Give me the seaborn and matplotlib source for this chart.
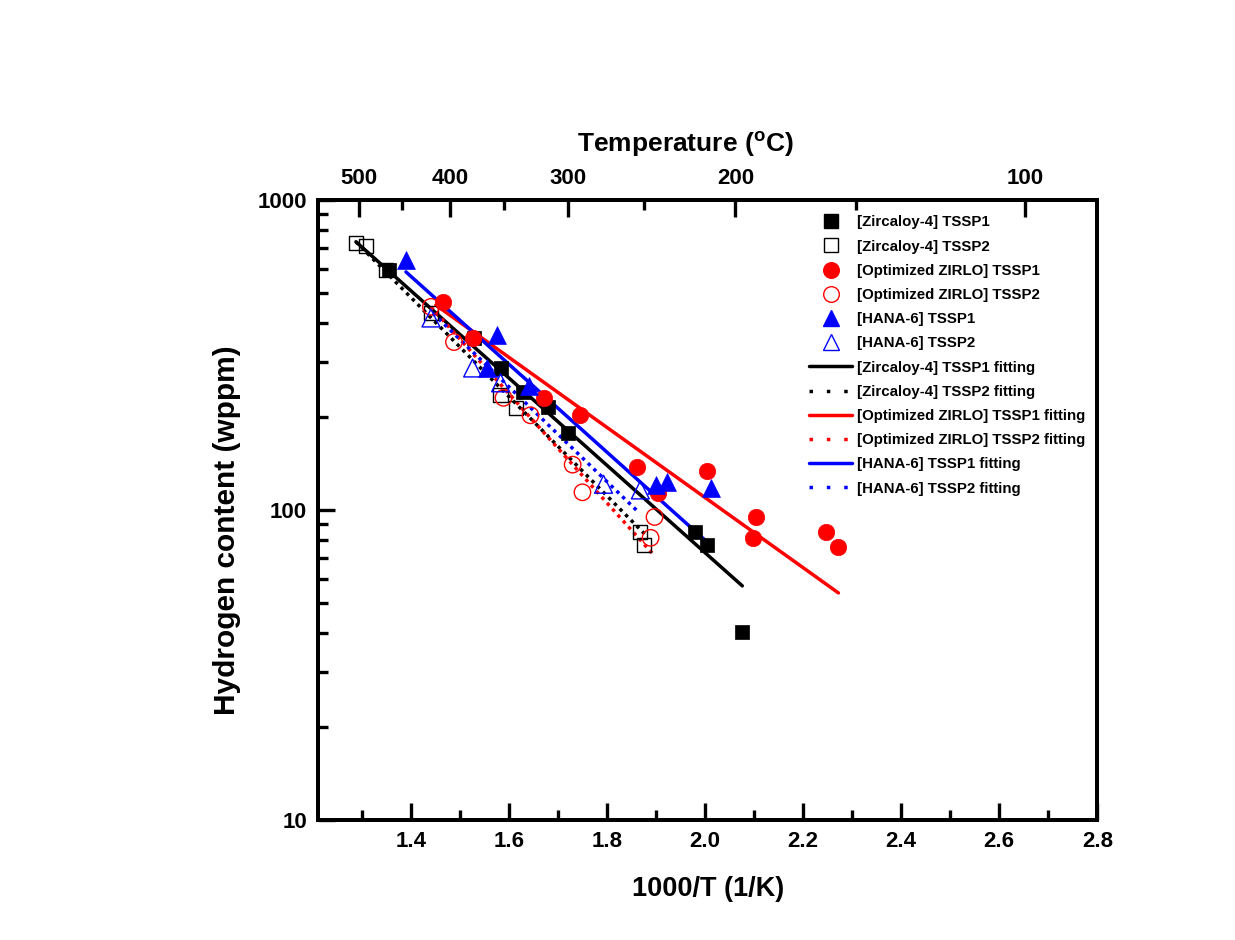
import numpy as np
import pandas as pd
import matplotlib
matplotlib.use('Agg')
import matplotlib.pyplot as plt
import seaborn as sns
from matplotlib.lines import Line2D
from matplotlib.ticker import LogLocator, NullFormatter, FixedLocator

# ---- data (x = 1000/T in 1/K, y = hydrogen in wppm) ----
zry4_tssp1_x = [1.355, 1.528, 1.583, 1.628, 1.679, 1.720, 1.980, 2.005, 2.076]
zry4_tssp1_y = [594, 359, 287, 240, 215, 177, 85, 77, 40.4]

zry4_tssp2_x = [1.288, 1.308, 1.349, 1.441, 1.583, 1.614, 1.868, 1.875]
zry4_tssp2_y = [727, 711, 594, 431, 235, 213, 85, 77]

zirlo_tssp1_x = [1.465, 1.526, 1.671, 1.745, 1.861, 1.904, 2.004, 2.104, 2.098, 2.247, 2.272]
zirlo_tssp1_y = [469, 359, 230, 202, 138, 113.6, 134, 94.9, 81.2, 85, 76]

zirlo_tssp2_x = [1.441, 1.488, 1.589, 1.644, 1.730, 1.750, 1.897, 1.889]
zirlo_tssp2_y = [452, 348, 230, 202, 140, 114, 94.9, 81.3]

hana_tssp1_x = [1.390, 1.575, 1.555, 1.640, 1.899, 1.923, 2.013]
hana_tssp1_y = [640, 367, 287, 251, 120.5, 123, 117.8]

hana_tssp2_x = [1.441, 1.526, 1.583, 1.793, 1.868]
hana_tssp2_y = [416, 287, 257, 121, 116]

# fitting lines: start / end points
zry4_fit1_x = [1.288, 2.076]
zry4_fit1_y = [733, 56.9]
zry4_fit2_x = [1.288, 1.879]
zry4_fit2_y = [733, 83]
zirlo_fit1_x = [1.451, 2.272]
zirlo_fit1_y = [458, 54]
zirlo_fit2_x = [1.441, 1.895]
zirlo_fit2_y = [452, 71.7]
hana_fit1_x = [1.390, 2.013]
hana_fit1_y = [586, 76.6]
hana_fit2_x = [1.445, 1.866]
hana_fit2_y = [431, 97.8]

# top axis: temperature labels and where they sit on the 1000/T scale
temp_major = ['500', '400', '300', '200', '100']
temp_major_pos = [1.294, 1.480, 1.721, 2.062, 2.653]
temp_minor_pos = [1.382, 1.591, 1.876, 2.308]

sns.set_style("ticks")
plt.rcParams['font.family'] = ['Liberation Sans', 'DejaVu Sans']
plt.rcParams['mathtext.default'] = 'regular'
plt.rcParams['font.weight'] = 'bold'
plt.rcParams['text.color'] = 'black'
plt.rcParams['axes.labelcolor'] = 'black'
plt.rcParams['xtick.color'] = 'black'
plt.rcParams['ytick.color'] = 'black'
plt.rcParams['axes.edgecolor'] = 'black'

fig = plt.figure(figsize=(12.35, 9.4), dpi=100)
ax = fig.add_axes([0.2575, 0.1277, 0.631, 0.6596])

dot_plot = (0, (1, 1.3))
dot_leg = (0, (1, 4.0))

series = [
    (zry4_tssp1_x, zry4_tssp1_y, 's', 'black', True, 105, '[Zircaloy-4] TSSP1'),
    (zry4_tssp2_x, zry4_tssp2_y, 's', 'black', False, 105, '[Zircaloy-4] TSSP2'),
    (zirlo_tssp1_x, zirlo_tssp1_y, 'o', 'red', True, 140, '[Optimized ZIRLO] TSSP1'),
    (zirlo_tssp2_x, zirlo_tssp2_y, 'o', 'red', False, 140, '[Optimized ZIRLO] TSSP2'),
    (hana_tssp1_x, hana_tssp1_y, '^', 'blue', True, 165, '[HANA-6] TSSP1'),
    (hana_tssp2_x, hana_tssp2_y, '^', 'blue', False, 165, '[HANA-6] TSSP2'),
]
fits = [
    (zry4_fit1_x, zry4_fit1_y, 'black', '-', '[Zircaloy-4] TSSP1 fitting'),
    (zry4_fit2_x, zry4_fit2_y, 'black', ':', '[Zircaloy-4] TSSP2 fitting'),
    (zirlo_fit1_x, zirlo_fit1_y, 'red', '-', '[Optimized ZIRLO] TSSP1 fitting'),
    (zirlo_fit2_x, zirlo_fit2_y, 'red', ':', '[Optimized ZIRLO] TSSP2 fitting'),
    (hana_fit1_x, hana_fit1_y, 'blue', '-', '[HANA-6] TSSP1 fitting'),
    (hana_fit2_x, hana_fit2_y, 'blue', ':', '[HANA-6] TSSP2 fitting'),
]

handles = []
for x, y, m, c, filled, s, lab in series:
    df = pd.DataFrame({'x': x, 'y': y})
    if filled:
        sns.scatterplot(data=df, x='x', y='y', marker=m, s=s, color=c,
                        edgecolor=c, linewidth=0.5, ax=ax, zorder=3)
    else:
        sns.scatterplot(data=df, x='x', y='y', marker=m, s=s, facecolor='none',
                        edgecolor=c, linewidth=1.0, ax=ax, zorder=3)
    handles.append(Line2D([], [], marker=m, ls='none', markersize=np.sqrt(s) * 0.95,
                          color=c, markerfacecolor=c if filled else 'none',
                          markeredgecolor=c, markeredgewidth=1.0, label=lab))

for x, y, c, ls, lab in fits:
    df = pd.DataFrame({'x': x, 'y': y})
    sns.lineplot(data=df, x='x', y='y', color=c, lw=2.5,
                 linestyle='-' if ls == '-' else dot_plot, ax=ax, zorder=2)
    handles.append(Line2D([], [], color=c, lw=2.5,
                          linestyle='-' if ls == '-' else dot_leg, label=lab))

ax.set_yscale('log')
ax.set_xlim(1.2107, 2.8)
ax.set_ylim(10, 1000)

ax.xaxis.set_major_locator(FixedLocator([1.4, 1.6, 1.8, 2.0, 2.2, 2.4, 2.6, 2.8]))
ax.xaxis.set_minor_locator(FixedLocator([1.3, 1.5, 1.7, 1.9, 2.1, 2.3, 2.5, 2.7]))
ax.set_xticklabels(['1.4', '1.6', '1.8', '2.0', '2.2', '2.4', '2.6', '2.8'])
ax.yaxis.set_major_locator(FixedLocator([10, 100, 1000]))
ax.set_yticklabels(['10', '100', '1000'])
ax.yaxis.set_minor_locator(LogLocator(base=10, subs=np.arange(2, 10)))
ax.yaxis.set_minor_formatter(NullFormatter())

for lab in ax.get_xticklabels() + ax.get_yticklabels():
    lab.set_fontweight('bold')
    lab.set_fontsize(16)

ax.tick_params(which='major', direction='in', length=12, width=2.4, pad=8,
               top=False, right=False)
ax.tick_params(which='minor', direction='in', length=7, width=2.4,
               top=False, right=False)
for sp in ax.spines.values():
    sp.set_linewidth(2.8)
    sp.set_visible(True)

ax.set_xlabel('1000/T (1/K)', fontsize=19.5, fontweight='bold')
ax.xaxis.set_label_coords(0.5, -0.09)
ax.set_ylabel('Hydrogen content (wppm)', fontsize=21.5, fontweight='bold')
ax.yaxis.set_label_coords(-0.099, 0.468)

# top temperature axis
ax2 = ax.twiny()
ax2.set_xlim(ax.get_xlim())
ax2.xaxis.set_major_locator(FixedLocator(temp_major_pos))
ax2.xaxis.set_minor_locator(FixedLocator(temp_minor_pos))
ax2.set_xticklabels(temp_major)
for lab in ax2.get_xticklabels():
    lab.set_fontweight('bold')
    lab.set_fontsize(16)
ax2.tick_params(which='major', direction='in', length=12, width=2.4, pad=8)
ax2.tick_params(which='minor', direction='in', length=7, width=2.4)
for sp in ax2.spines.values():
    sp.set_linewidth(2.8)
ax2.set_xlabel('Temperature ($^{o}$C)', fontsize=19, fontweight='bold')
ax2.xaxis.set_label_coords(0.471, 1.077)

leg = ax.legend(handles=handles, loc='upper left', bbox_to_anchor=(0.630, 0.975),
                frameon=False, fontsize=10.8, handlelength=2.9, handletextpad=0.3,
                labelspacing=0.68, borderpad=0, borderaxespad=0)
for t in leg.get_texts():
    t.set_fontweight('bold')

fig.savefig('out.png', dpi=100)
